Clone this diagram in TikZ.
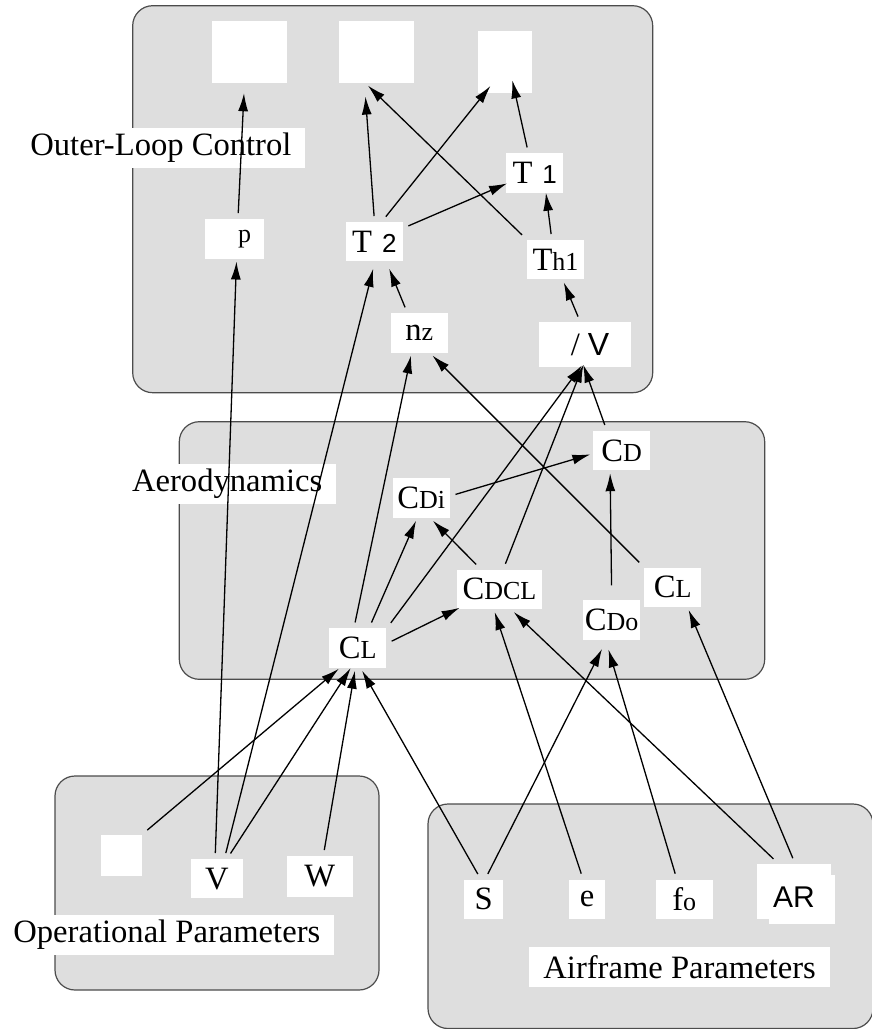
\documentclass[tikz,border=0pt]{standalone}
\usepackage{fontspec}
\setmainfont{Liberation Serif}
\setsansfont{Liberation Sans}
\usetikzlibrary{arrows.meta}

\definecolor{panelgray}{RGB}{222,222,222}
\newcommand{\lowtxt}[1]{{\fontsize{13}{15}\selectfont #1}}
\newcommand{\sfdigit}[1]{{\sffamily\fontsize{13}{15}\selectfont #1}}

\begin{document}
\begin{tikzpicture}[x=0.5pt,y=-0.5pt,font=\fontsize{16.3}{19}\selectfont,
  panel/.style={draw=black!70,line width=0.6pt,fill=panelgray,rounded corners=10pt},
  paneltitle/.style={fill=white,inner xsep=7pt,inner ysep=2pt,minimum height=20pt,anchor=west},
  qbox/.style={fill=white,inner sep=0pt,outer sep=1.5pt,minimum width=28.3pt,minimum height=19.7pt},
  link/.style={line width=0.65pt,-{Latex[length=9pt,width=5pt]},shorten <=1.5pt}]
\useasboundingbox (0,0) rectangle (872,1029);

\draw[panel] (132.7,5.7) rectangle (652.7,392.7);
\draw[panel] (179.3,421.7) rectangle (764.7,679.3);
\draw[panel] (55,776) rectangle (379,990);
\draw[panel] (428,804) rectangle (873,1028.5);

\node[paneltitle] (outerTitle) at (16,147.7) {Outer-Loop Control};
\node[paneltitle] (aeroTitle) at (117.7,483.7) {Aerodynamics};
\node[paneltitle] (opTitle) at (-1,934.5) {Operational Parameters};
\node[paneltitle] (frameTitle) at (529,966.8) {Airframe Parameters};

\node[qbox,minimum width=37.3pt,minimum height=30.8pt] (outA) at (249.7,51.8) {};
\node[qbox,minimum width=37.3pt,minimum height=30.8pt] (outB) at (376.3,51.8) {};
\node[qbox,minimum width=27pt,minimum height=30.8pt] (outC) at (504.7,61.8) {};
\node[qbox,minimum width=29.5pt] (gp) at (234.5,238.8) {\hspace*{10pt}\lowtxt{p}};
\node[qbox] (T2) at (374.3,241.7) {T\hspace{5pt}\sfdigit{2}};
\node[qbox] (T1) at (534.7,173) {T\hspace{5pt}\sfdigit{1}};
\node[qbox] (Th1) at (555.5,259.7) {T\lowtxt{h1}};
\node[qbox] (nz) at (419.3,332.8) {n\lowtxt{z}};
\node[qbox,minimum width=45.7pt,minimum height=22.2pt] (gV) at (585,344.5) {\hspace*{5pt}/\hspace{4pt}{\sffamily\fontsize{16}{18}\selectfont V}};

\node[qbox] (CD) at (621.7,450.5) {C\lowtxt{D}};
\node[qbox] (CDi) at (421.3,498) {C\lowtxt{Di}};
\node[qbox,minimum width=42.2pt] (CDCL) at (499.5,589.3) {C\lowtxt{DCL}};
\node[qbox] (CDo) at (611.7,620) {C\lowtxt{Do}};
\node[qbox] (CLa) at (672.7,587.2) {C\lowtxt{L}};
\node[qbox] (CL) at (357.7,648) {C\lowtxt{L}};

\node[qbox,minimum width=20.5pt,minimum height=20.3pt] (opBlank) at (121.5,855.3) {};
\node[qbox,minimum width=25.8pt] (V) at (216.8,878.7) {V};
\node[qbox,minimum width=32.8pt,minimum height=20.3pt] (W) at (319.8,876.3) {W};

\node[qbox,minimum width=19.7pt] (S) at (483.7,899.3) {S};
\node[qbox,minimum width=18pt] (e) at (587,899.2) {e};
\node[qbox] (fo) at (684.3,899.2) {f\lowtxt{o}};
\fill[white] (769,875) rectangle (835,924);
\node[qbox,minimum width=37pt,minimum height=27.5pt,text height=16.2pt,text depth=0pt] (AR) at (794,891.5) {\sffamily\fontsize{15}{17}\selectfont AR};

\draw[link,shorten >=3.8pt] (gp.81) -- (outA.-99);
\draw[link] (V.94) -- (gp.-85);
\draw[link,shorten >=5.5pt] (T2.north) -- (outB.-109);
\draw[link,shorten >=-6.2pt] (T2.67) -- (outC.-123);
\draw[link,shorten >=-2pt] (T2.25) -- (T1.201);
\draw[link] (Th1.north west) -- (outB.-104);
\draw[link,shorten >=-7.8pt] (T1.107) -- (outC.-72);
\draw[link,shorten >=-1.5pt] (Th1.100) -- (T1.-63);
\draw[link] (gV.103) -- (Th1.-70);
\draw[link,shorten >=2.3pt] (nz.120) -- (T2.-60);
\draw[link,shorten >=2.3pt] (V.70) -- (T2.-90);
\draw[link] (CL.98) -- (nz.-110);
\draw[link] (CLa.north west) -- (nz.-60);
\draw[link,shorten >=-2.7pt] (CL.north east) -- (gV.-104);
\draw[link,shorten >=-2.7pt] (CDCL.78) -- (gV.-98);
\draw[link,shorten >=-2.7pt] (CD.125) -- (gV.-90);

\draw[link] (CDi.5) -- (CD.187);
\draw[link,shorten <=6pt] (CDo.north) -- (CD.-117);
\draw[link] (CL.61) -- (CDi.-103);
\draw[link] (CDCL.133) -- (CDi.-63);
\draw[link,shorten >=-3pt] (CL.10) -- (CDCL.205);

\draw[link,shorten >=-1.5pt] (opBlank.north east) -- (CL.-133);
\draw[link,shorten >=-1.5pt] (V.62) -- (CL.-111);
\draw[link] (W) -- (CL.-97);
\draw[link] (S.101) -- (CL.-79);
\draw[link,shorten >=3.5pt] (S.83) -- (CDo.-106);
\draw[link] (e.102) -- (CDCL.-102);
\draw[link,shorten >=3.5pt] (fo.110) -- (CDo.-103);
\draw[link] (AR.121) -- (CDCL.-58);
\draw[link] (AR.north) -- (CLa.-55);
\end{tikzpicture}
\end{document}
